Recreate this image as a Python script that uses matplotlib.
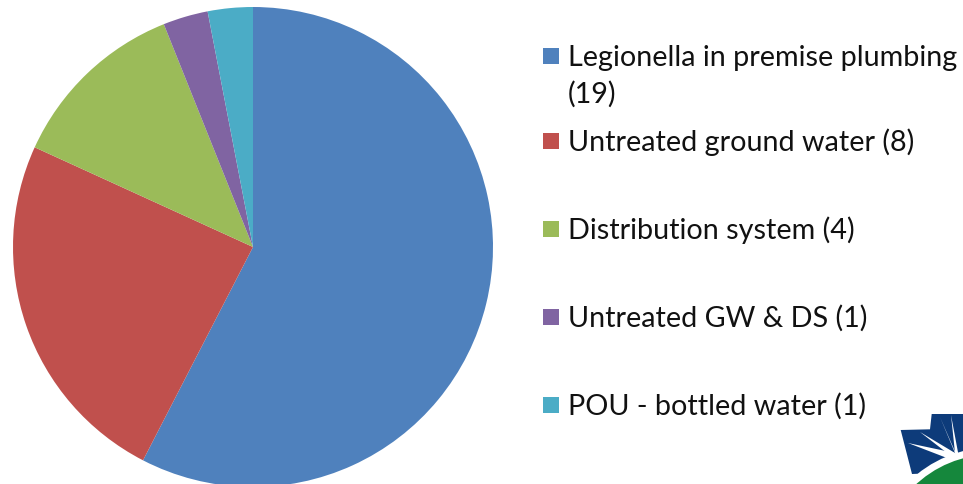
import matplotlib
matplotlib.use("Agg")
import matplotlib.pyplot as plt
from matplotlib.patches import Rectangle, Polygon, Circle

categories = ["Legionella in premise plumbing", "Untreated ground water",
              "Distribution system", "Untreated GW & DS", "POU - bottled water"]
counts = [19, 8, 4, 1, 1]
label_lines = [["Legionella in premise plumbing", "(19)"], ["Untreated ground water (8)"],
               ["Distribution system (4)"], ["Untreated GW & DS (1)"], ["POU - bottled water (1)"]]
colors = ["#4F81BD", "#C0504D", "#9BBB59", "#8064A2", "#4BACC6"]

W, H = 963, 484
fig = plt.figure(figsize=(W / 100, H / 100), dpi=100)
ax = fig.add_axes([0, 0, 1, 1])

cx, cy, r = 253, H - 247, 240
ax.pie(counts, colors=colors, startangle=90, counterclock=False,
       center=(cx, cy), radius=r, wedgeprops=dict(linewidth=0), frame=False)
ax.set_xlim(0, W)
ax.set_ylim(0, H)
ax.set_aspect("equal")
ax.axis("off")

# legend (manual, image-pixel layout)
square_centers = [56, 141, 229, 317, 405]
for lines, col, yc in zip(label_lines, colors, square_centers):
    ax.add_patch(Rectangle((543, H - yc - 8), 16, 16, facecolor=col, edgecolor="none"))
    for k, line in enumerate(lines):
        base = yc + 10 + 37 * k
        ax.text(568, H - base, line, fontsize=20.7, family="Lato", color="#111111",
                va="baseline", ha="left")

# logo fragment (bottom-right corner decoration)
def P(x, y):
    return (x, H - y)

blue = Polygon([P(900.7, 430), P(930, 429.3), P(931.7, 414), P(963, 414),
                P(963, 472), P(912, 474)], closed=True, facecolor="#0d3b7a",
               edgecolor="none")
ax.add_patch(blue)
for tip in [(908, 443), (920, 432), (940, 417), (951, 415)]:
    ax.add_patch(Polygon([P(*tip), P(955, 453), P(960, 463)], closed=True,
                         facecolor="white", edgecolor="none"))
ax.add_patch(Circle((992, H - 566), 115, facecolor="#15873c", edgecolor="white",
                    linewidth=5))

fig.savefig("out.png", dpi=100)
